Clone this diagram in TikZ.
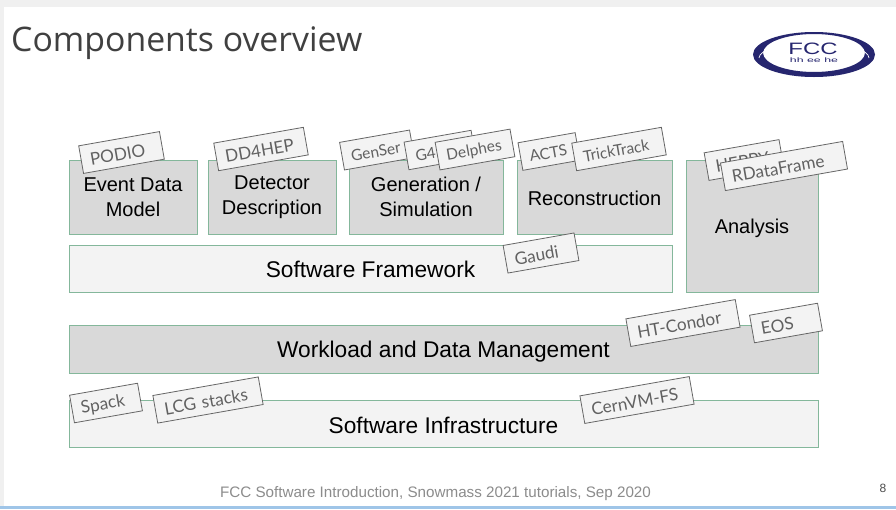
\documentclass[tikz,border=0pt]{standalone}
\usepackage{fontspec}
\setmainfont{Liberation Sans}
\newfontfamily\tagfont{Lato}
\newfontfamily\titlefont{Open Sans}
\definecolor{boxgreen}{HTML}{84B79B}
\definecolor{boxdark}{HTML}{D9D9D9}
\definecolor{boxlight}{HTML}{F3F3F3}
\definecolor{fccblue}{HTML}{26266F}
\definecolor{stripblue}{HTML}{9FC5E8}
\begin{document}
\begin{tikzpicture}[x=1pt, y=-1pt,
	block/.style={draw=boxgreen, line width=1pt, fill=boxdark, text=black, align=center, font=\fontsize{20}{25}\selectfont, inner sep=0pt, execute at begin node={\rule{0pt}{0.92em}}},
	wideblock/.style={block, font=\fontsize{22.7}{27}\selectfont},
	lightblock/.style={wideblock, fill=boxlight},
	tag/.style={draw=black!60, line width=0.8pt, fill=boxlight, text=black!62, rotate=10, minimum height=28pt, inner xsep=9pt, inner ysep=0pt, align=left, font=\tagfont\fontsize{17.2}{20}\selectfont, execute at begin node={\rule{0pt}{0.9em}}},
	smalltag/.style={tag, font=\tagfont\fontsize{15.5}{20}\selectfont}]
	\useasboundingbox (0,0) rectangle (896,509);
	% slide background
	\fill[black!6] (0,0) rectangle (896,7);
	\fill[black!6] (0,0) rectangle (4,509);
	\fill[white] (4,7) rectangle (896,505);
	\fill[stripblue] (0,505.5) rectangle (896,509);
	\node[anchor=west, inner sep=0pt, text=black!75, font=\titlefont\fontsize{33.8}{38}\selectfont] (title) at (11,43) {Components overview};
	% logo
	\fill[fccblue, even odd rule] (814,54.5) ellipse [x radius=61, y radius=22.5] (814,53) ellipse [x radius=51, y radius=19];
	\draw[white, line width=0.7pt] (759,58) arc [start angle=180, end angle=360, x radius=55, y radius=15.5];
	\node[inner sep=0pt, text=fccblue, xscale=1.45, font=\fontsize{16.5}{17}\selectfont] (fcc) at (813,49) {FCC};
	\node[inner sep=0pt, text=fccblue, xscale=1.9, font=\fontsize{6.5}{7}\selectfont] (hhee) at (814,60.5) {hh ee he};
	% blocks
	\node[block, minimum width=128pt, minimum height=74pt] (edm) at (133,197) {Event Data\\Model};
	\node[block, minimum width=128pt, minimum height=74pt] (detector) at (272,197) {Detector\\Description};
	\node[block, minimum width=154pt, minimum height=74pt] (generation) at (426,197) {Generation /\\Simulation};
	\node[block, minimum width=155pt, minimum height=74pt] (reco) at (594.5,197) {\raisebox{1pt}{Reconstruction}};
	\node[block, minimum width=132pt, minimum height=132pt] (analysis) at (752,226) {\raisebox{-1.5pt}{Analysis}};
	\node[lightblock, minimum width=603pt, minimum height=47pt] (framework) at (370.5,268.5) {\raisebox{1pt}{Software Framework}};
	\node[wideblock, minimum width=749pt, minimum height=48pt] (workload) at (443.5,349) {Workload and Data Management};
	\node[lightblock, minimum width=749pt, minimum height=47pt] (infra) at (443.5,423.5) {Software Infrastructure};
	% tags
	\node[tag, text width=64pt] (podio) at (121.5,152.5) {PODIO};
	\node[tag, text width=73pt] (dd4hep) at (261,149) {DD4HEP};
	\node[smalltag, text width=53pt] (genser) at (377,150) {GenSer};
	\node[smalltag, text width=50pt] (g4) at (440,150) {G4};
	\node[smalltag, text width=58pt] (delphes) at (475,149.5) {Delphes};
	\node[smalltag, text width=40pt] (acts) at (549,151.5) {ACTS};
	\node[smalltag, text width=73pt] (tricktrack) at (619,149) {TrickTrack};
	\node[tag, text width=58pt] (heppy) at (744,160) {HEPPY};
	\node[tag, text width=106pt] (rdf) at (784,166) {RDataFrame};
	\node[tag, text width=54pt] (gaudi) at (541,253) {Gaudi};
	\node[tag, text width=93pt] (htcondor) at (683,323) {HT-Condor};
	\node[tag, text width=51pt] (eos) at (786,323) {EOS};
	\node[tag, text width=93pt] (cernvm) at (637,400) {CernVM-FS};
	\node[tag, text width=51pt] (spack) at (106,403) {Spack};
	\node[tag, text width=89pt] (lcg) at (208,400) {LCG stacks};
	% footer
	\node[inner sep=0pt, text=black!45, font=\fontsize{15.2}{17}\selectfont] (footer) at (435.5,493.5) {FCC Software Introduction, Snowmass 2021 tutorials, Sep 2020};
	\node[inner sep=0pt, text=black!70, font=\fontsize{12}{13}\selectfont] (page) at (883,488) {8};
\end{tikzpicture}
\end{document}
